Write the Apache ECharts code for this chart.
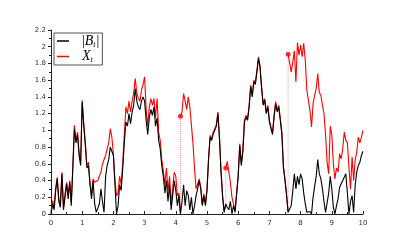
<!DOCTYPE html>
<html>
<head>
<meta charset="utf-8">
<script src="https://cdn.jsdelivr.net/npm/echarts@6/dist/echarts.min.js"></script>
<style>html,body{margin:0;padding:0;background:#fff}#c{width:415px;height:245px}</style>
</head>
<body>
<div id="c"></div>
<script>
// sampling grid: t from 0 to 10, step 0.05
const tStep = 0.05;
// |B_t|  (black)
const absB = [
0.00,0.12,0.05,0.28,0.42,0.15,0.08,0.48,0.05,0.20,0.36,0.18,0.38,0.10,0.55,1.02,0.85,0.95,0.70,0.58,
1.34,1.05,0.82,0.55,0.58,0.35,0.18,0.40,0.12,0.02,0.00,0.12,0.30,0.15,0.02,0.45,0.58,0.65,0.80,0.75,
0.70,0.35,0.00,0.10,0.35,0.28,0.55,0.85,1.10,1.05,1.20,1.08,1.22,1.30,1.50,1.35,1.28,1.25,1.35,1.40,
1.35,1.12,0.95,1.15,1.25,1.18,1.28,1.05,1.15,0.88,0.78,0.58,0.45,0.25,0.40,0.15,0.35,0.05,0.22,0.40,
0.28,0.10,0.22,0.00,0.15,0.35,0.10,0.28,0.22,0.05,0.20,0.00,0.10,0.22,0.30,0.40,0.30,0.10,0.22,0.10,
0.28,0.65,0.92,0.88,0.96,1.00,1.05,1.20,0.90,0.50,0.20,0.02,0.12,0.08,0.05,0.15,0.00,0.10,0.02,0.00,
0.45,0.82,0.58,0.75,1.10,1.16,1.12,1.28,1.52,1.40,1.58,1.55,1.70,1.86,1.75,1.50,1.30,1.36,1.20,1.28,
1.10,1.02,0.95,1.16,1.32,1.22,1.28,1.12,0.95,0.55,0.40,0.22,0.02,0.00,0.10,0.28,0.48,0.30,0.45,0.35,
0.48,0.42,0.25,0.12,0.02,0.00,0.03,0.00,0.20,0.33,0.45,0.65,0.48,0.42,0.30,0.15,0.02,0.00,0.25,0.45,
0.30,0.08,0.00,0.10,0.18,0.32,0.30,0.40,0.38,0.48,0.25,0.00,0.15,0.22,0.02,0.35,0.50,0.58,0.62,0.70,
0.75
];
// X_t (red), value after any jump at that sample
const X = [
0.02,0.16,0.08,0.32,0.44,0.18,0.12,0.50,0.08,0.24,0.38,0.22,0.40,0.14,0.58,1.06,0.88,0.98,0.74,0.62,
1.36,1.08,0.86,0.58,0.62,0.38,0.22,0.42,0.38,0.38,0.40,0.40,0.50,0.60,0.62,0.70,0.78,0.85,1.02,0.92,
0.72,0.40,0.22,0.25,0.45,0.35,0.62,0.95,1.28,1.20,1.35,1.22,1.35,1.45,1.62,1.45,1.38,1.35,1.48,1.55,
1.64,1.25,1.05,1.28,1.38,1.30,1.38,1.15,1.38,0.98,0.88,0.65,0.52,0.35,0.55,0.28,0.45,0.12,0.30,0.50,
0.45,0.22,0.25,1.17,1.22,1.44,1.35,1.25,1.40,1.28,1.30,0.85,0.55,0.30,0.32,0.42,0.32,0.12,0.24,0.12,
0.30,0.67,0.94,0.90,0.98,1.02,1.07,1.22,0.92,0.52,0.22,0.04,0.55,0.63,0.50,0.38,0.20,0.12,0.04,0.02,
0.47,0.84,0.60,0.77,1.12,1.18,1.14,1.30,1.54,1.42,1.60,1.57,1.72,1.88,1.77,1.52,1.32,1.38,1.22,1.30,
1.12,1.04,0.97,1.18,1.34,1.24,1.30,1.14,0.97,0.57,0.42,0.24,1.91,1.90,1.70,1.82,1.95,1.58,2.05,1.90,
2.02,1.88,2.04,1.84,1.48,1.46,1.24,1.04,1.32,1.42,1.50,1.68,1.45,1.42,1.30,1.20,0.95,0.62,0.48,1.05,
0.95,0.60,0.42,0.55,0.50,0.72,0.66,0.78,0.98,0.88,0.85,0.55,0.30,0.68,0.40,0.65,0.74,0.92,0.85,0.92,
1.00
];
// jumps of X_t
const jumpIdx = [83, 112, 152];
const jumpFrom = [0.00, 0.10, 0.02];
const jumpTo = [1.17, 0.55, 1.91];
const xTicks = [0,1,2,3,4,5,6,7,8,9,10];
const yTicks = [0,0.2,0.4,0.6,0.8,1,1.2,1.4,1.6,1.8,2,2.2];

const t = i => +(i * tStep).toFixed(2);
const blackData = absB.map((v, i) => [t(i), v]);
const redData = [];
X.forEach((v, i) => {
  const j = jumpIdx.indexOf(i);
  if (j >= 0) {
    redData.push([t(i), jumpFrom[j]]);
    redData.push([t(i), '-']);
  }
  redData.push([t(i), v]);
});
const jumpLines = [];
jumpIdx.forEach((idx, j) => {
  jumpLines.push([t(idx), jumpFrom[j]], [t(idx), jumpTo[j]], [t(idx), '-']);
});
const jumpDots = jumpIdx.map((idx, j) => [t(idx), jumpTo[j]]);

const chart = echarts.init(document.getElementById('c'), null, {renderer: 'canvas'});
const lblFont = {fontFamily: 'DejaVu Sans', fontSize: 7, color: '#333'};
chart.setOption({
  animation: false,
  backgroundColor: '#fff',
  grid: {left: 51, right: 52, top: 30, bottom: 31},
  xAxis: {
    type: 'value', min: xTicks[0], max: xTicks[xTicks.length - 1], interval: 1,
    axisLine: {lineStyle: {color: '#222', width: 1}},
    axisTick: {inside: true, length: 3, lineStyle: {color: '#222'}},
    minorTick: {show: true, splitNumber: 2, length: 2, lineStyle: {color: '#222'}},
    splitLine: {show: false},
    axisLabel: Object.assign({margin: 6}, lblFont)
  },
  yAxis: {
    type: 'value', min: yTicks[0], max: yTicks[yTicks.length - 1], interval: 0.2,
    axisLine: {show: true, lineStyle: {color: '#222', width: 1}},
    axisTick: {show: true, inside: false, length: 3, lineStyle: {color: '#222'}},
    minorTick: {show: true, splitNumber: 2, length: 2, lineStyle: {color: '#222'}},
    splitLine: {show: false},
    axisLabel: Object.assign({margin: 5, formatter: v => String(+v.toFixed(1))}, lblFont)
  },
  legend: {
    orient: 'vertical', left: 54, top: 33,
    data: ['B', 'X'],
    icon: 'rect', itemWidth: 12, itemHeight: 1.5, itemGap: 1,
    padding: [1, 3, 1, 3],
    borderColor: '#555', borderWidth: 1, backgroundColor: '#fff',
    formatter: n => n === 'B' ? '{g| }{r||}{i|B}{s|t}{r||}' : '{g| }{i|X}{s|t}',
    textStyle: {
      rich: {
        g: {fontSize: 8, width: 8},
        r: {fontFamily: 'Liberation Serif', fontSize: 14, color: '#000', lineHeight: 15},
        i: {fontFamily: 'Liberation Serif', fontStyle: 'italic', fontSize: 14, color: '#000', lineHeight: 15},
        s: {fontFamily: 'Liberation Serif', fontStyle: 'italic', fontSize: 8, color: '#000', lineHeight: 15, verticalAlign: 'bottom', padding: [5, 1, 0, 0]}
      }
    }
  },
  series: [
    {name: 'X', type: 'line', data: redData, showSymbol: false, symbol: 'none',
     lineStyle: {color: '#ff0000', width: 1.1}, itemStyle: {color: '#ff0000'}, z: 2, connectNulls: false},
    {name: 'jump', type: 'line', data: jumpLines, showSymbol: false, symbol: 'none',
     lineStyle: {color: '#ff9a9a', width: 1, type: 'dotted'}, z: 1, connectNulls: false},
    {name: 'jumpDot', type: 'scatter', data: jumpDots, symbolSize: 5,
     itemStyle: {color: '#ff0000'}, z: 3},
    {name: 'B', type: 'line', data: blackData, showSymbol: false, symbol: 'none',
     lineStyle: {color: '#000000', width: 1.1}, itemStyle: {color: '#000000'}, z: 4}
  ]
});
</script>
</body>
</html>
